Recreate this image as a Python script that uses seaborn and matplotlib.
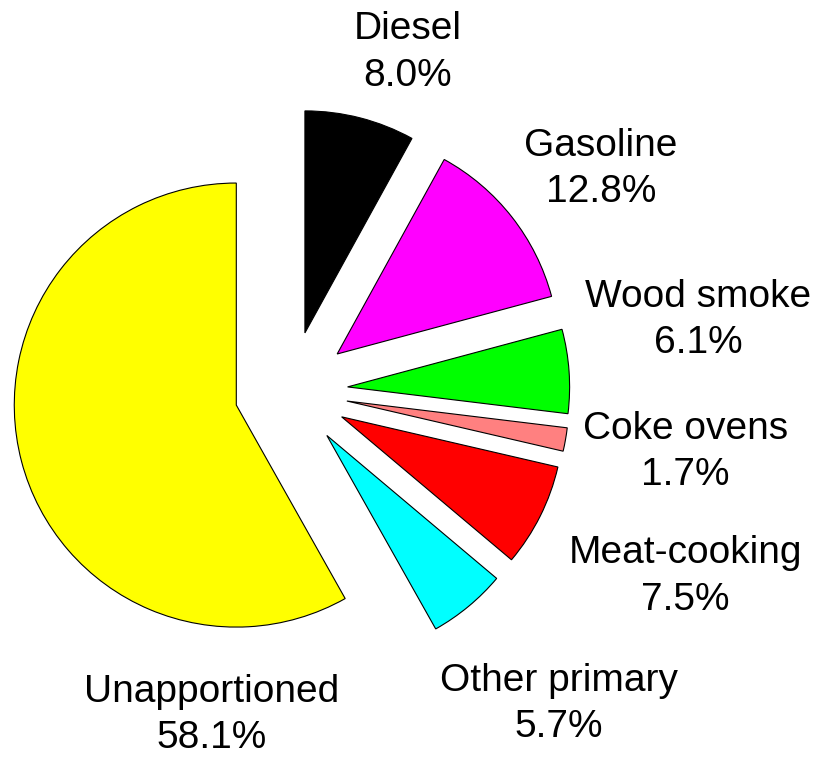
import matplotlib
matplotlib.use("Agg")
import matplotlib.pyplot as plt
import seaborn as sns

sns.set_theme(style="white")
plt.rcParams['font.family'] = ['Liberation Sans', 'DejaVu Sans']

categories = ["Diesel", "Gasoline", "Wood smoke", "Coke ovens",
              "Meat-cooking", "Other primary", "Unapportioned"]
values = [8.0, 12.8, 6.1, 1.7, 7.5, 5.7, 58.1]
colors = ["#000000", "#FF00FF", "#00FF00", "#FF8080", "#FF0000", "#00FFFF", "#FFFF00"]
explode = [0.27, 0.27, 0.26, 0.26, 0.26, 0.26, 0.25]
label_pos = [(0.53, 1.525), (1.40, 1.00), (1.84, 0.32), (1.78, -0.275),
             (1.78, -0.835), (1.21, -1.41), (-0.355, -1.46)]

fig = plt.figure(figsize=(8.2, 7.64), dpi=100)
ax = fig.add_axes([0, 0, 1, 1])
ax.pie(values, colors=colors, explode=explode, startangle=90, counterclock=False,
       radius=1.0, center=(0, 0),
       wedgeprops=dict(edgecolor="black", linewidth=0.8))
for cat, val, (x, y) in zip(categories, values, label_pos):
    ax.text(x, y, f"{cat}\n{val:.1f}%", ha="center", va="center",
            fontsize=28, linespacing=1.38, color="black")
ax.set_xlim(-1.306, 2.387)
ax.set_ylim(-1.680, 1.761)
ax.set_aspect("equal")
ax.axis("off")
fig.savefig("out.png", dpi=100)
